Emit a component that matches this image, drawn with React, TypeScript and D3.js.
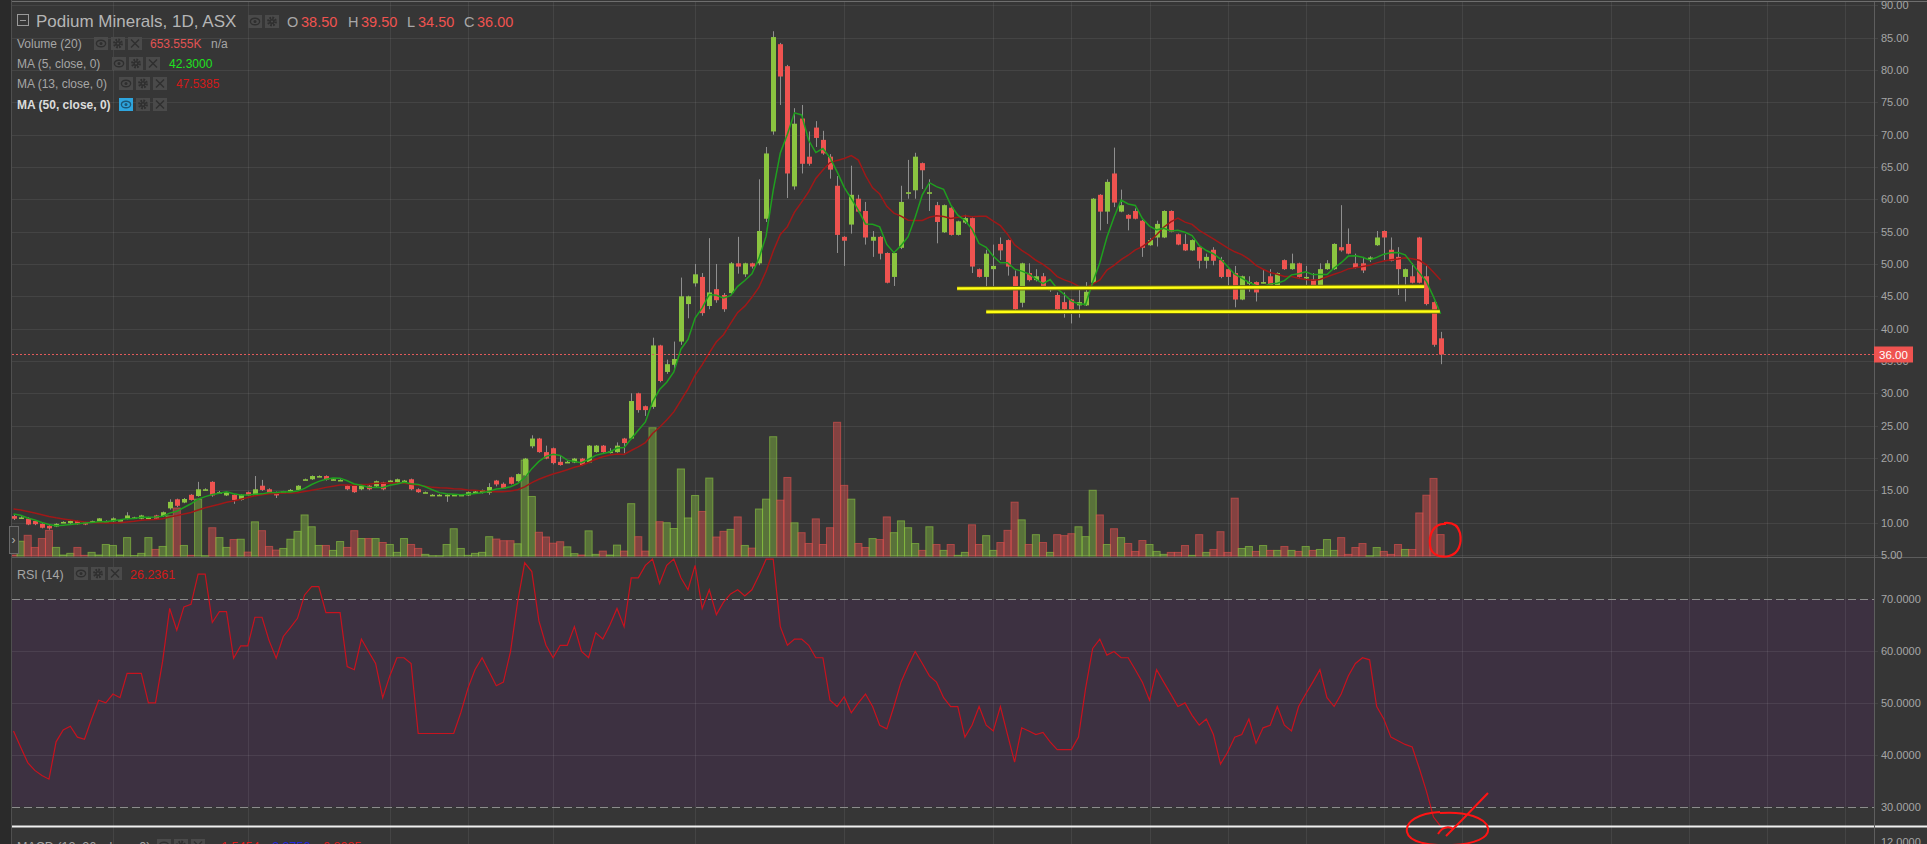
import * as d3 from "d3";

// closes before the first visible bar, only used to seed the moving averages
const priorClose = [13.0, 12.9, 12.8, 12.6, 12.6, 12.4, 12.3, 12.2, 11.9, 11.7, 11.4, 11.1];

const open = [
  11.0, 10.8, 10.6, 10.25, 9.8, 9.5, 9.4, 10.1, 9.9, 10.25,
  10.0, 10.25, 10.15, 10.25, 10.2, 10.4, 10.6, 10.8, 10.6, 10.8,
  11.1, 11.0, 12.2, 13.6, 13.1, 14.3, 14.1, 15.15, 16.3, 14.7,
  14.2, 14.3, 13.5, 14.7, 14.2, 15.7, 15.15, 14.7, 14.8, 15.05,
  15.05, 16.7, 16.7, 17.2, 17.2, 16.7, 16.6, 15.7, 15.7, 15.15,
  15.7, 15.6, 16.2, 16.5, 16.2, 16.5, 16.7, 15.15, 14.7, 14.3,
  14.3, 14.3, 14.3, 14.3, 14.2, 14.8, 14.6, 14.6, 16.5, 16.0,
  17.0, 16.4, 17.3, 21.8, 23.0, 20.9, 21.5, 19.4, 19.4, 19.3,
  19.9, 19.3, 20.9, 21.9, 21.0, 20.9, 23.0, 23.0, 30.0, 28.0,
  27.9, 37.4, 33.3, 34.4, 38.0, 43.8, 47.0, 48.0, 43.5, 46.1,
  45.2, 45.5, 50.1, 48.4, 50.1, 50.1, 57.0, 70.5, 84.0, 80.6,
  62.0, 72.5, 66.6, 71.1, 69.2, 66.6, 62.1, 54.2, 56.1, 60.1,
  58.2, 53.6, 54.2, 51.7, 48.0, 52.5, 61.1, 61.4, 65.6, 61.1,
  59.1, 54.9, 58.7, 54.5, 56.4, 57.1, 49.2, 48.0, 49.2, 53.1,
  53.7, 48.1, 44.0, 48.6, 47.5, 48.1, 46.2, 45.2, 44.1, 44.5,
  43.6, 43.6, 47.1, 60.7, 58.1, 64.0, 58.1, 57.6, 58.2, 56.7,
  52.9, 54.1, 54.1, 58.2, 54.6, 53.1, 52.1, 52.6, 50.5, 52.2,
  50.6, 49.2, 48.6, 44.5, 47.2, 47.2, 47.2, 48.1, 46.5, 50.6,
  49.2, 50.1, 48.0, 47.6, 46.5, 49.2, 49.2, 52.6, 53.1, 50.1,
  50.1, 51.0, 52.9, 55.1, 52.2, 51.1, 48.0, 48.1, 54.1, 48.1,
  44.1, 38.5,
];

const high = [
  11.2, 11.0, 10.8, 10.4, 9.9, 9.6, 9.9, 10.2, 10.35, 10.3,
  10.1, 10.3, 10.7, 10.35, 10.8, 10.5, 11.6, 10.9, 11.2, 10.9,
  11.2, 11.7, 13.6, 13.7, 13.8, 14.4, 16.3, 15.3, 16.4, 14.9,
  14.8, 14.4, 14.4, 14.8, 17.2, 16.6, 15.3, 14.8, 14.9, 15.2,
  15.8, 16.8, 17.3, 17.3, 17.3, 16.8, 16.7, 15.8, 15.8, 15.8,
  15.8, 16.5, 16.3, 16.6, 16.8, 16.6, 16.8, 15.3, 14.8, 14.4,
  14.4, 14.4, 14.4, 14.4, 14.8, 14.9, 15.1, 16.1, 16.6, 16.2,
  17.1, 17.6, 20.0, 23.5, 23.1, 21.9, 21.6, 20.4, 19.6, 20.0,
  20.0, 22.0, 22.0, 22.0, 21.5, 22.4, 23.1, 30.0, 30.1, 28.1,
  38.6, 37.5, 35.2, 38.0, 47.9, 45.1, 50.0, 48.6, 54.0, 50.0,
  45.5, 50.3, 54.2, 50.2, 50.2, 63.1, 68.1, 86.0, 84.2, 80.8,
  74.1, 74.6, 70.5, 72.1, 70.6, 67.0, 63.6, 54.3, 65.2, 60.7,
  59.6, 55.1, 54.3, 51.8, 51.8, 62.1, 66.1, 67.2, 65.7, 63.1,
  59.6, 59.2, 58.8, 56.7, 57.6, 57.2, 49.3, 52.2, 53.0, 54.1,
  53.8, 49.0, 50.2, 50.1, 49.2, 48.6, 46.6, 45.6, 45.6, 44.6,
  46.0, 47.2, 60.2, 60.8, 63.1, 68.0, 61.5, 57.7, 58.6, 56.8,
  54.0, 56.7, 58.3, 58.3, 54.7, 54.6, 53.8, 52.7, 51.6, 52.6,
  51.1, 49.3, 49.7, 48.2, 48.1, 47.3, 49.2, 49.2, 48.7, 50.7,
  51.6, 50.2, 49.7, 48.6, 50.1, 50.6, 53.2, 59.1, 55.5, 51.6,
  51.1, 51.2, 55.1, 55.2, 54.1, 52.6, 49.3, 50.1, 54.2, 49.7,
  44.2, 39.5,
];

const low = [
  10.4, 10.6, 9.6, 9.6, 9.1, 8.9, 9.3, 10.0, 9.8, 9.7,
  9.6, 10.2, 10.1, 10.15, 10.1, 10.3, 10.5, 10.7, 10.5, 10.7,
  10.5, 10.9, 12.0, 12.4, 13.0, 13.4, 14.0, 15.0, 14.0, 14.6,
  14.1, 12.9, 13.4, 14.1, 14.1, 14.9, 14.5, 13.8, 14.7, 14.9,
  15.0, 16.6, 16.6, 17.1, 16.5, 16.6, 16.5, 15.0, 14.6, 15.0,
  15.0, 15.5, 15.0, 16.4, 16.1, 16.4, 15.0, 14.6, 14.6, 14.2,
  14.2, 13.2, 14.2, 14.2, 14.1, 14.7, 14.5, 14.3, 15.6, 15.2,
  15.9, 16.3, 17.2, 21.5, 20.8, 19.8, 19.0, 18.8, 19.3, 19.2,
  18.8, 19.2, 20.8, 20.8, 20.7, 20.8, 20.7, 22.9, 27.0, 26.5,
  27.6, 31.7, 33.0, 33.5, 37.5, 41.6, 46.5, 42.0, 43.0, 44.0,
  42.6, 45.2, 48.5, 48.0, 49.3, 49.8, 56.5, 70.0, 74.6, 60.2,
  61.5, 64.0, 65.2, 68.1, 66.9, 63.2, 51.7, 49.7, 54.7, 58.0,
  53.0, 51.1, 50.7, 47.0, 46.6, 52.3, 60.1, 60.1, 61.6, 58.2,
  53.2, 54.8, 54.4, 54.4, 56.2, 48.6, 47.9, 46.2, 46.2, 50.6,
  48.2, 42.9, 43.3, 47.3, 47.3, 46.0, 45.7, 42.6, 41.7, 40.8,
  41.7, 43.5, 47.0, 55.2, 56.2, 58.8, 58.0, 55.2, 56.9, 51.1,
  52.8, 52.7, 54.0, 54.9, 52.9, 52.0, 52.0, 49.3, 49.3, 49.8,
  47.8, 46.2, 43.3, 44.4, 45.7, 44.2, 47.0, 46.4, 46.4, 49.1,
  49.1, 47.9, 46.5, 46.4, 46.4, 49.1, 49.1, 51.9, 51.5, 49.3,
  48.6, 50.3, 52.8, 50.5, 50.4, 45.2, 44.2, 47.0, 47.0, 43.6,
  37.2, 34.5,
];

const close = [
  10.6, 10.8, 9.7, 9.75, 9.2, 9.1, 9.8, 10.1, 10.25, 9.75,
  9.7, 10.25, 10.65, 10.25, 10.65, 10.4, 11.1, 10.8, 11.1, 10.8,
  10.6, 11.6, 13.2, 12.6, 13.65, 13.5, 15.15, 15.15, 14.2, 14.7,
  14.7, 13.5, 14.3, 14.2, 15.15, 15.05, 14.6, 14.2, 14.8, 15.05,
  15.7, 16.7, 17.2, 17.2, 16.65, 16.7, 16.6, 15.15, 14.7, 15.7,
  15.15, 16.4, 15.15, 16.5, 16.7, 16.5, 15.15, 14.7, 14.7, 14.3,
  14.3, 14.3, 14.3, 14.3, 14.7, 14.8, 15.0, 15.5, 15.9, 15.3,
  16.0, 17.5, 19.9, 23.0, 20.9, 19.9, 19.2, 18.9, 19.4, 19.9,
  18.9, 21.9, 21.9, 20.9, 21.0, 21.9, 22.3, 28.8, 27.4, 27.4,
  37.4, 31.9, 34.5, 35.3, 45.0, 45.0, 48.4, 42.4, 45.6, 44.4,
  43.0, 50.1, 49.6, 50.1, 49.6, 55.1, 67.1, 85.1, 79.0, 64.0,
  71.7, 65.5, 65.5, 69.5, 67.1, 64.6, 54.5, 53.6, 60.7, 58.1,
  54.1, 54.2, 51.6, 47.1, 51.7, 59.6, 61.1, 66.6, 64.5, 61.1,
  56.5, 59.1, 54.5, 56.6, 57.1, 49.6, 48.0, 51.6, 49.7, 52.1,
  49.6, 43.0, 50.1, 47.5, 48.1, 46.1, 46.2, 43.0, 43.0, 43.0,
  44.1, 45.7, 60.1, 58.1, 62.7, 59.5, 59.1, 57.0, 57.0, 52.5,
  53.7, 56.2, 58.2, 55.0, 53.0, 52.1, 53.7, 50.5, 51.1, 50.5,
  48.0, 48.0, 44.5, 48.1, 47.2, 45.6, 47.2, 46.5, 48.6, 49.2,
  50.1, 48.0, 48.0, 46.5, 49.2, 50.1, 53.1, 52.1, 51.6, 49.4,
  49.0, 51.0, 54.1, 54.1, 50.5, 49.2, 49.2, 47.1, 47.1, 43.8,
  37.5, 36.0,
];

// volume in thousands of shares
const volume = [
  30, 451, 632, 262, 533, 783, 262, 30, 81, 262,
  20, 111, 30, 352, 322, 30, 562, 15, 81, 562,
  201, 292, 1224, 1465, 322, 20, 1736, 10, 863, 562,
  262, 502, 512, 120, 1043, 773, 292, 181, 231, 512,
  753, 1254, 893, 322, 322, 171, 442, 262, 773, 533,
  533, 533, 412, 352, 111, 533, 352, 231, 50, 10,
  10, 352, 833, 231, 20, 81, 111, 590, 518, 467,
  467, 373, 2929, 1818, 725, 581, 391, 436, 280, 72,
  30, 768, 50, 150, 30, 333, 150, 1598, 590, 150,
  3916, 1047, 1015, 840, 2658, 1162, 1848, 1360, 2380, 580,
  752, 813, 1194, 322, 241, 1435, 1736, 3642, 1706, 2399,
  1013, 712, 381, 1134, 351, 863, 4083, 2157, 1736, 381,
  261, 532, 502, 1194, 712, 1073, 863, 381, 171, 893,
  351, 171, 351, 20, 110, 953, 351, 622, 171, 411,
  783, 1645, 1104, 351, 652, 411, 110, 652, 622, 682,
  893, 592, 2007, 1254, 351, 833, 562, 381, 140, 472,
  351, 140, 50, 110, 110, 321, 20, 652, 110, 200,
  742, 110, 1766, 230, 291, 140, 321, 171, 171, 291,
  171, 140, 291, 171, 200, 502, 171, 562, 50, 260,
  381, 10, 260, 140, 50, 351, 200, 200, 1315, 1857,
  2369, 653.555,
];

const rsi = [
  44.6, 41.5, 38.5, 37.0, 36.0, 35.3, 42.5, 44.8, 45.5, 43.4,
  43.0, 46.9, 50.5, 50.0, 51.7, 51.0, 55.7, 55.7, 55.7, 50.0,
  50.0, 58.0, 68.2, 64.0, 68.5, 69.0, 74.8, 74.8, 65.5, 67.6,
  67.6, 58.6, 61.0, 61.0, 66.5, 66.5, 62.0, 58.6, 62.8, 64.5,
  66.3, 70.8, 72.4, 72.4, 67.4, 67.4, 67.4, 57.0, 56.4, 62.3,
  59.9, 57.6, 51.0, 55.2, 58.7, 58.7, 57.6, 44.1, 44.1, 44.1,
  44.1, 44.1, 44.1, 48.1, 52.8, 56.4, 58.7, 56.0, 53.3, 54.0,
  59.9, 69.4, 77.0, 75.3, 65.8, 61.1, 58.7, 61.1, 61.1, 64.7,
  59.9, 58.7, 63.5, 62.3, 65.0, 68.2, 64.7, 74.1, 74.1, 76.5,
  77.7, 73.0, 76.5, 77.7, 74.1, 71.8, 76.5, 68.2, 71.8, 67.0,
  69.4, 71.0, 71.8, 70.6, 71.8, 74.6, 77.7, 77.7, 64.7, 61.1,
  62.3, 62.3, 61.1, 58.7, 58.7, 50.5, 49.3, 51.2, 48.1, 50.0,
  51.7, 49.3, 45.7, 45.0, 49.3, 54.0, 57.1, 59.9, 57.6, 55.2,
  54.0, 51.0, 49.3, 49.3, 43.4, 45.7, 49.3, 45.7, 44.6, 49.3,
  43.9, 38.6, 45.2, 44.6, 43.9, 44.3, 42.5, 41.0, 41.0, 41.0,
  43.4, 52.8, 60.5, 62.3, 59.2, 59.9, 58.7, 58.7, 56.4, 54.0,
  50.5, 56.4, 54.0, 51.7, 49.3, 50.0, 47.6, 45.7, 46.9, 43.9,
  38.2, 40.5, 43.4, 43.9, 46.9, 42.2, 45.2, 45.7, 49.3, 45.7,
  44.6, 49.3, 51.7, 54.0, 56.4, 51.0, 49.3, 51.7, 55.2, 57.6,
  58.7, 58.3, 49.3, 46.9, 43.4, 42.7, 42.0, 41.5, 37.4, 33.0,
  28.0, 26.2361,
];

const priceTicks = [5, 10, 15, 20, 25, 30, 35, 40, 45, 50, 55, 60, 65, 70, 75, 80, 85, 90];
const rsiTicks = [30, 40, 50, 60, 70];
// bar index of each time gridline (continues into the empty right area)
const timeGrid = [14, 33, 53, 64, 76, 96, 117, 138, 149, 160, 171, 182, 193, 204, 225, 236, 247, 258];
// hand-drawn support lines: [fromBar, fromPrice, toBar, toPrice]
const supportLines = [
  [132.9, 46.2, 198.7, 46.5],
  [137.0, 42.6, 200.9, 42.65],
];
const lastPrice = 36.0;

const GREEN = "#8bc540";
const RED = "#ef5350";
const FONT = "'Liberation Sans', Arial, sans-serif";

function IconBox({ x, y, kind, active }: { x: number; y: number; kind: string; active?: boolean }) {
  const g = active ? "#1c5878" : "#2f2f2f";
  const cx = x + 7;
  const cy = y + 6.5;
  return (
    <g>
      <rect x={x} y={y} width={14} height={13} fill={active ? "#2ea5de" : "#4a4a4a"} />
      {kind === "eye" && (
        <g>
          <ellipse cx={cx} cy={cy} rx={4.6} ry={3.3} fill="none" stroke={g} strokeWidth={1.4} />
          <circle cx={cx} cy={cy} r={1.5} fill={g} />
        </g>
      )}
      {kind === "gear" && (
        <g>
          <circle cx={cx} cy={cy} r={3.6} fill="none" stroke={g} strokeWidth={2.6} strokeDasharray="1.7,1.1" />
          <circle cx={cx} cy={cy} r={2.6} fill={g} />
          <circle cx={cx} cy={cy} r={1.1} fill={active ? "#2ea5de" : "#4a4a4a"} />
        </g>
      )}
      {kind === "x" && (
        <g stroke={g} strokeWidth={1.4}>
          <line x1={cx - 4} y1={cy - 4} x2={cx + 4} y2={cy + 4} />
          <line x1={cx + 4} y1={cy - 4} x2={cx - 4} y2={cy + 4} />
        </g>
      )}
    </g>
  );
}

function Icons3({ x, y, active }: { x: number; y: number; active?: boolean }) {
  return (
    <g>
      <IconBox x={x} y={y} kind="eye" active={active} />
      <IconBox x={x + 17} y={y} kind="gear" />
      <IconBox x={x + 34} y={y} kind="x" />
    </g>
  );
}

export default function App() {
  const W = 1927;
  const H = 844;
  const left = 12;
  const axisX = 1874;
  const priceBottom = 557;
  const rsiBottom = 826;
  const n = close.length;

  const x = d3.scaleLinear().domain([0, n - 1]).range([13.5, 13.5 + 7.1 * (n - 1)]);
  const yP = d3.scaleLinear().domain([5, 90]).range([554.9, 5.4]);
  const yV = d3.scaleLinear().domain([0, 4000]).range([556, 425]);
  const yR = d3.scaleLinear().domain([30, 70]).range([806.7, 599.1]);

  const allClose = [...priorClose, ...close];
  const off = priorClose.length;
  const movingAvg = (p: number) =>
    close.map((_, i) => d3.mean(allClose.slice(i + off - p + 1, i + off + 1)) as number);
  const ma5 = movingAvg(5);
  const ma13 = movingAvg(13);

  const priceLine = d3
    .line<number>()
    .x((_, i) => x(i))
    .y((d) => yP(d));
  const rsiLine = d3
    .line<number>()
    .x((_, i) => x(i))
    .y((d) => yR(d));

  const gridStroke = "rgba(255,255,255,0.075)";

  return (
    <svg
      width={W}
      height={H}
      viewBox={`0 0 ${W} ${H}`}
      style={{ position: "absolute", left: 0, top: 0, display: "block" }}
      fontFamily={FONT}
    >
      <defs>
        <clipPath id="clipPrice">
          <rect x={left} y={2} width={axisX - left} height={priceBottom - 2} />
        </clipPath>
        <clipPath id="clipRsi">
          <rect x={left} y={priceBottom} width={axisX - left} height={rsiBottom - priceBottom} />
        </clipPath>
      </defs>

      <rect x={0} y={0} width={W} height={H} fill="#363636" />
      <rect x={0} y={0} width={left - 1} height={H} fill="#2a2a2a" />
      <line x1={left - 0.5} x2={left - 0.5} y1={0} y2={H} stroke="#4f4f4f" />

      {/* RSI zone */}
      <rect x={left} y={yR(70)} width={axisX - left} height={yR(30) - yR(70)} fill="#3d3141" />

      {/* horizontal grid, price */}
      {priceTicks.map((t) => (
        <line key={"pg" + t} x1={left} x2={axisX + 4} y1={Math.round(yP(t)) + 0.5} y2={Math.round(yP(t)) + 0.5} stroke={gridStroke} />
      ))}
      {rsiTicks
        .filter((t) => t !== 30 && t !== 70)
        .map((t) => (
          <line key={"rg" + t} x1={left} x2={axisX + 4} y1={Math.round(yR(t)) + 0.5} y2={Math.round(yR(t)) + 0.5} stroke={gridStroke} />
        ))}
      {/* vertical grid */}
      {timeGrid.map((g) => (
        <line key={"vg" + g} x1={Math.round(x(g)) + 0.5} x2={Math.round(x(g)) + 0.5} y1={2} y2={H} stroke={gridStroke} />
      ))}

      {/* RSI bounds */}
      {[70, 30].map((t) => (
        <line key={"rb" + t} x1={left} x2={axisX} y1={Math.round(yR(t)) + 0.5} y2={Math.round(yR(t)) + 0.5} stroke="#8c8c8c" strokeDasharray="8,4" />
      ))}

      {/* volume */}
      <g clipPath="url(#clipPrice)">
        {volume.map((v, i) => {
          const up = close[i] >= open[i];
          const top = yV(v);
          return (
            <rect
              key={"v" + i}
              x={x(i) - 3.55}
              y={top}
              width={7.1}
              height={Math.max(0.5, yV(0) - top)}
              fill={up ? "rgba(139,197,64,0.42)" : "rgba(239,83,80,0.42)"}
              stroke={up ? "rgba(139,197,64,0.62)" : "rgba(239,83,80,0.55)"}
              strokeWidth={1}
            />
          );
        })}

        {/* candles */}
        {close.map((c, i) => {
          const o = open[i];
          const up = c >= o;
          const cx = Math.round(x(i));
          const top = yP(Math.max(o, c));
          const bot = yP(Math.min(o, c));
          return (
            <g key={"c" + i}>
              <line x1={cx + 0.5} x2={cx + 0.5} y1={yP(high[i])} y2={yP(low[i])} stroke="#8f8f8f" />
              <rect x={cx - 2} y={top} width={5} height={Math.max(1.6, bot - top)} fill={up ? GREEN : RED} />
            </g>
          );
        })}

        {/* moving averages */}
        <path d={priceLine(ma13) ?? ""} fill="none" stroke="#a01818" strokeWidth={1.5} />
        <path d={priceLine(ma5) ?? ""} fill="none" stroke="#1fa01f" strokeWidth={1.5} />

        {/* support lines */}
        {supportLines.map((s, k) => (
          <g key={"s" + k}>
            <line x1={x(s[0])} x2={x(s[2])} y1={yP(s[1])} y2={yP(s[3])} stroke="#6d6a10" strokeWidth={4.5} />
            <line x1={x(s[0])} x2={x(s[2])} y1={yP(s[1])} y2={yP(s[3])} stroke="#ffff14" strokeWidth={2.6} />
          </g>
        ))}
      </g>

      {/* last price line */}
      <line x1={left} x2={axisX} y1={Math.round(yP(lastPrice)) + 0.5} y2={Math.round(yP(lastPrice)) + 0.5} stroke="#e35a5a" strokeDasharray="2,2" />

      {/* RSI */}
      <g clipPath="url(#clipRsi)">
        <path d={rsiLine(rsi) ?? ""} fill="none" stroke="#c8121e" strokeWidth={1.2} />
      </g>

      {/* frames */}
      <line x1={left} x2={W} y1={1.5} y2={1.5} stroke="#6e6e6e" />
      <line x1={left} x2={W} y1={priceBottom + 0.5} y2={priceBottom + 0.5} stroke="#5c5c5c" />
      <line x1={left} x2={W} y1={rsiBottom + 0.5} y2={rsiBottom + 0.5} stroke="#f0f0f0" strokeWidth={2} />
      <line x1={axisX + 0.5} x2={axisX + 0.5} y1={2} y2={H} stroke="#5e5e5e" />

      {/* price axis */}
      {priceTicks.map((t) => (
        <text key={"pt" + t} x={1881} y={yP(t)} dy="0.36em" fontSize={11} fill="#a6a6a6">
          {t.toFixed(2)}
        </text>
      ))}
      <rect x={axisX} y={yP(lastPrice) - 8} width={39} height={16} fill="#ef5350" />
      <text x={1879} y={yP(lastPrice)} dy="0.36em" fontSize={11.5} fill="#ffffff">
        {lastPrice.toFixed(2)}
      </text>

      {/* RSI axis */}
      {rsiTicks.map((t) => (
        <text key={"rt" + t} x={1881} y={yR(t)} dy="0.36em" fontSize={11} fill="#a6a6a6">
          {t.toFixed(4)}
        </text>
      ))}
      <text x={1881} y={846} fontSize={11} fill="#a6a6a6">
        12.0000
      </text>

      {/* header */}
      <rect x={17.5} y={14.5} width={11} height={11} fill="none" stroke="#9a9a9a" />
      <line x1={20} x2={26} y1={20.5} y2={20.5} stroke="#9a9a9a" />
      <text x={36} y={27} fontSize={17} fill="#b5b5b5">
        Podium Minerals, 1D, ASX
      </text>
      <IconBox x={248} y={15} kind="eye" />
      <IconBox x={265} y={15} kind="gear" />
      <text y={27} fontSize={14.5}>
        <tspan x={287} fill="#a8a8a8">O</tspan>
        <tspan x={301} fill={RED}>38.50</tspan>
        <tspan x={348} fill="#a8a8a8">H</tspan>
        <tspan x={361} fill={RED}>39.50</tspan>
        <tspan x={407} fill="#a8a8a8">L</tspan>
        <tspan x={418} fill={RED}>34.50</tspan>
        <tspan x={464} fill="#a8a8a8">C</tspan>
        <tspan x={477} fill={RED}>36.00</tspan>
      </text>

      <text x={17} y={47.5} fontSize={12} fill="#a6a6a6">Volume (20)</text>
      <Icons3 x={94} y={37} />
      <text x={150} y={47.5} fontSize={12} fill="#e25353">653.555K</text>
      <text x={211} y={47.5} fontSize={12} fill="#a6a6a6">n/a</text>

      <text x={17} y={67.5} fontSize={12} fill="#a6a6a6">MA (5, close, 0)</text>
      <Icons3 x={112} y={57} />
      <text x={169} y={67.5} fontSize={12} fill="#1fe21f">42.3000</text>

      <text x={17} y={88} fontSize={12} fill="#a6a6a6">MA (13, close, 0)</text>
      <Icons3 x={119} y={77} />
      <text x={176} y={88} fontSize={12} fill="#d21a1a">47.5385</text>

      <text x={17} y={108.5} fontSize={12} fill="#dcdcdc" fontWeight="bold">MA (50, close, 0)</text>
      <Icons3 x={119} y={98} active />

      {/* RSI legend */}
      <text x={17} y={579} fontSize={12.5} fill="#a6a6a6">RSI (14)</text>
      <Icons3 x={74} y={567} />
      <text x={130} y={579} fontSize={12.5} fill="#d21a1a">26.2361</text>

      {/* MACD legend (mostly cut off) */}
      <text x={17} y={851} fontSize={12.5} fill="#a6a6a6">MACD (12, 26, close, 0)</text>
      <Icons3 x={157} y={839} />
      <text x={217} y={851} fontSize={12.5} fill="#e01c1c">-1.5454</text>
      <text x={268} y={851} fontSize={12.5} fill="#2424e0">-2.2756</text>
      <text x={319} y={851} fontSize={12.5} fill="#e01c1c">-0.8085</text>

      {/* collapse tab */}
      <rect x={9.5} y={526.5} width={9} height={27} fill="#3a3a3a" stroke="#6a6a6a" />
      <text x={11.5} y={544} fontSize={12} fill="#b0b0b0">›</text>

      {/* red hand annotations */}
      <path
        d="M1446,524 C1433,523 1429,535 1430,545 C1431,555 1440,558 1449,556 C1459,554 1462,543 1460,533 C1458,525 1452,522 1444,523"
        fill="none"
        stroke="#ff1414"
        strokeWidth={2.2}
      />
      <path
        d="M1440,812 C1418,813 1405,822 1407,832 C1409,842 1428,846 1452,845 C1474,844 1490,838 1488,828 C1486,818 1466,811 1440,813"
        fill="none"
        stroke="#ff1414"
        strokeWidth={2}
      />
      <path d="M1438,834 C1441,829 1446,826 1452,828 M1446,836 L1462,820 L1488,793" fill="none" stroke="#ff1414" strokeWidth={2} />
    </svg>
  );
}
